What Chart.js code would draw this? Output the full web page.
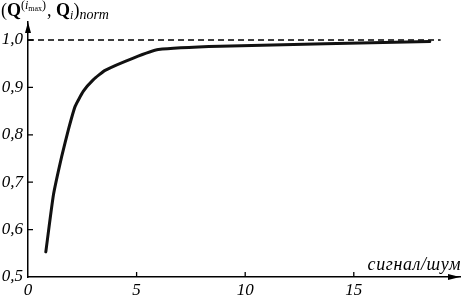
<!DOCTYPE html>
<html><head><meta charset="utf-8">
<script src="https://cdn.jsdelivr.net/npm/chart.js@4"></script>
<style>html,body{margin:0;padding:0;background:#fff;}canvas{display:block;}</style>
</head><body>
<canvas id="c" width="461" height="297"></canvas>
<script>
// Data
const snr   = [0.82, 1.17, 1.55, 1.86, 2.17, 2.55, 3.0, 3.55, 4.85, 6.0, 8.85, 18.5];
const qnorm = [0.553, 0.673, 0.754, 0.811, 0.86, 0.892, 0.916, 0.936, 0.962, 0.98, 0.987, 0.997];
const refX  = [0, 19.0];
const refY  = [1.0, 1.0];
const xTicks = [0, 5, 10, 15];
const yTicks = [0.5, 0.6, 0.7, 0.8, 0.9, 1.0];
const xAxisLabel = 'сигнал/шум';

const FONT = '"Liberation Serif", "Times New Roman", serif';

const decor = {
  id: 'decor',
  afterDraw(chart) {
    const ctx = chart.ctx, a = chart.chartArea;
    const xs = chart.scales.x, ys = chart.scales.y;
    const x0 = xs.getPixelForValue(0), y0 = ys.getPixelForValue(0.5);
    ctx.save();
    ctx.strokeStyle = '#000'; ctx.fillStyle = '#000'; ctx.lineWidth = 1.3;
    // inward ticks
    ctx.beginPath();
    xTicks.forEach(v => { if (v === 0) return; const p = xs.getPixelForValue(v); ctx.moveTo(p, y0); ctx.lineTo(p, y0 - 5); });
    yTicks.forEach(v => { if (v === 0.5) return; const p = ys.getPixelForValue(v); ctx.moveTo(x0, p); ctx.lineTo(x0 + 5, p); });
    ctx.stroke();
    // arrows
    ctx.beginPath();
    ctx.moveTo(x0, a.top); ctx.lineTo(x0 - 3, a.top + 11); ctx.lineTo(x0 + 3, a.top + 11); ctx.closePath();
    ctx.moveTo(a.right, y0); ctx.lineTo(a.right - 12, y0 - 3); ctx.lineTo(a.right - 12, y0 + 3); ctx.closePath();
    ctx.fill();
    // x axis label
    ctx.font = 'italic 18px ' + FONT;
    ctx.letterSpacing = '0.6px';
    ctx.textAlign = 'right'; ctx.textBaseline = 'alphabetic';
    ctx.fillText(xAxisLabel, 461, 270);
    ctx.letterSpacing = '0px';
    // y axis title: (Q^(i_max), Q_i)_norm
    ctx.textAlign = 'left';
    let x = 1; const by = 16;
    const seg = (t, f, dy) => { ctx.font = f; ctx.fillText(t, x, by + (dy || 0)); x += ctx.measureText(t).width; };
    seg('(', '18px ' + FONT);
    seg('Q', 'bold 18px ' + FONT);
    seg('(', '12px ' + FONT, -7);
    seg('i', 'italic 12px ' + FONT, -7);
    seg('max', '8px ' + FONT, -5);
    seg(')', '12px ' + FONT, -7);
    x += 1;
    seg(', ', '18px ' + FONT);
    seg('Q', 'bold 18px ' + FONT);
    seg('i', 'italic 12px ' + FONT, 3);
    seg(')', '18px ' + FONT);
    seg('norm', 'italic 14px ' + FONT, 3);
    ctx.restore();
  }
};

new Chart(document.getElementById('c'), {
  type: 'line',
  data: {
    datasets: [
      { data: snr.map((v, i) => ({ x: v, y: qnorm[i] })), borderColor: '#111', borderWidth: 3,
        pointRadius: 0, tension: 0.15, fill: false, borderCapStyle: 'round', borderJoinStyle: 'round' },
      { data: refX.map((v, i) => ({ x: v, y: refY[i] })), borderColor: '#000', borderWidth: 1.3,
        borderDash: [6, 4], pointRadius: 0, fill: false }
    ]
  },
  options: {
    responsive: false, animation: false, devicePixelRatio: 1,
    layout: { padding: { top: 22, right: 1, left: 0, bottom: 0 } },
    plugins: { legend: { display: false }, tooltip: { enabled: false } },
    scales: {
      x: {
        type: 'linear', min: 0, max: 19.89,
        afterBuildTicks: s => { s.ticks = xTicks.map(v => ({ value: v })); },
        afterFit: s => { s.height = 20; },
        grid: { display: false, drawTicks: false },
        border: { display: true, color: '#000', width: 1.5 },
        ticks: { color: '#000', padding: 3, font: { family: FONT, size: 17, style: 'italic' },
                 maxRotation: 0, autoSkip: false, callback: v => String(v) }
      },
      y: {
        type: 'linear', min: 0.5, max: 1.038,
        afterBuildTicks: s => { s.ticks = yTicks.map(v => ({ value: v })); },
        afterFit: s => { s.width = 28; },
        grid: { display: false, drawTicks: false },
        border: { display: true, color: '#000', width: 1.5 },
        ticks: { color: '#000', padding: 5, font: { family: FONT, size: 17, style: 'italic' },
                 autoSkip: false, callback: v => Number(v).toFixed(1).replace('.', ',') }
      }
    }
  },
  plugins: [decor]
});
</script>
</body></html>
